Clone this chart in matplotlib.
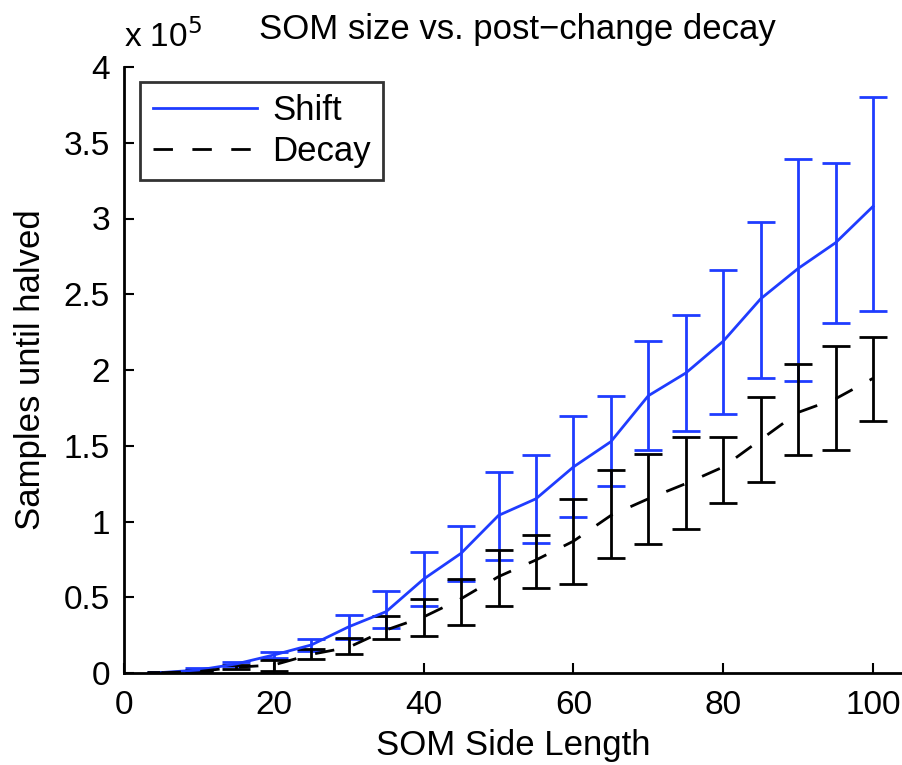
import numpy as np
import matplotlib
matplotlib.use('Agg')
import matplotlib.pyplot as plt
from matplotlib.lines import Line2D

plt.rcParams['font.family'] = ['Liberation Sans', 'DejaVu Sans']

# SOM side length
side = [5, 10, 15, 20, 25, 30, 35, 40, 45, 50, 55, 60, 65, 70, 75, 80, 85, 90, 95, 100]

# samples until halved, in units of 1e5
shift_mean = [0.003, 0.02, 0.06, 0.119, 0.185, 0.305, 0.405, 0.62, 0.79, 1.04,
              1.15, 1.36, 1.527, 1.83, 1.98, 2.19, 2.47, 2.67, 2.84, 3.08]
shift_hi = [0.005, 0.03, 0.075, 0.137, 0.222, 0.383, 0.543, 0.796, 0.97, 1.327,
            1.44, 1.696, 1.83, 2.19, 2.36, 2.66, 2.98, 3.39, 3.365, 3.80]
shift_lo = [0.001, 0.012, 0.045, 0.097, 0.147, 0.222, 0.295, 0.44, 0.61, 0.746,
            0.856, 1.03, 1.234, 1.47, 1.60, 1.71, 1.95, 1.93, 2.31, 2.39]

decay_mean = [0.002, 0.01, 0.038, 0.053, 0.123, 0.17, 0.284, 0.37, 0.49, 0.636,
              0.746, 0.87, 1.04, 1.15, 1.25, 1.36, 1.54, 1.72, 1.81, 1.945]
decay_hi = [0.004, 0.018, 0.05, 0.086, 0.156, 0.233, 0.376, 0.49, 0.62, 0.81,
            0.91, 1.148, 1.34, 1.445, 1.555, 1.555, 1.82, 2.04, 2.16, 2.22]
decay_lo = [0.0, 0.004, 0.028, 0.01, 0.09, 0.123, 0.222, 0.246, 0.32, 0.444,
            0.563, 0.59, 0.757, 0.85, 0.95, 1.12, 1.26, 1.44, 1.47, 1.665]

yticks = [0, 0.5, 1, 1.5, 2, 2.5, 3, 3.5, 4]
ytick_labels = ['0', '0.5', '1', '1.5', '2', '2.5', '3', '3.5', '4']
xticks = [0, 20, 40, 60, 80, 100]

fig = plt.figure(figsize=(9.03, 7.65), dpi=100)
ax = fig.add_axes([124 / 903, 92 / 765, 779 / 903, 606 / 765])

sm = np.array(shift_mean)
dm = np.array(decay_mean)
shift_err = [sm - np.array(shift_lo), np.array(shift_hi) - sm]
decay_err = [dm - np.array(decay_lo), np.array(decay_hi) - dm]

blue = '#1f3cff'
dash = (0, (7, 7))
ax.errorbar(side, sm, yerr=shift_err, color=blue, lw=2.0, elinewidth=2.0,
            capsize=10, capthick=2.0)
ax.errorbar(side, dm, yerr=decay_err, color='black', lw=2.0, elinewidth=2.0,
            capsize=10, capthick=2.0, linestyle=dash)

ax.set_xlim(0, 104)
ax.set_ylim(0, 4)
ax.set_xticks(xticks)
ax.set_yticks(yticks)
ax.set_yticklabels(ytick_labels)
ax.tick_params(direction='in', length=7, width=1.5, labelsize=24)
ax.tick_params(axis='x', pad=12)
ax.tick_params(axis='y', pad=10)
for s in ['top', 'right']:
    ax.spines[s].set_visible(False)
for s in ['left', 'bottom']:
    ax.spines[s].set_linewidth(2.0)

ax.set_title('SOM size vs. post\u2212change decay', fontsize=25, pad=20, x=0.505)
ax.set_xlabel('SOM Side Length', fontsize=25, labelpad=6)
ax.set_ylabel('Samples until halved', fontsize=25, labelpad=12)
ax.text(0.0, 1.022, 'x 10$^5$', transform=ax.transAxes, fontsize=24,
        ha='left', va='bottom')

handles = [Line2D([], [], color=blue, lw=2.0),
           Line2D([], [], color='black', lw=2.0, linestyle=dash)]
leg = ax.legend(handles, ['Shift', 'Decay'], loc='upper left', fontsize=25,
                frameon=True, fancybox=False, edgecolor='black', handlelength=3.0,
                bbox_to_anchor=(0.021, 0.975), borderpad=0.35, labelspacing=0.22,
                handletextpad=0.45, borderaxespad=0.0)
leg.get_frame().set_linewidth(2.0)

fig.savefig('out.png', dpi=100)
